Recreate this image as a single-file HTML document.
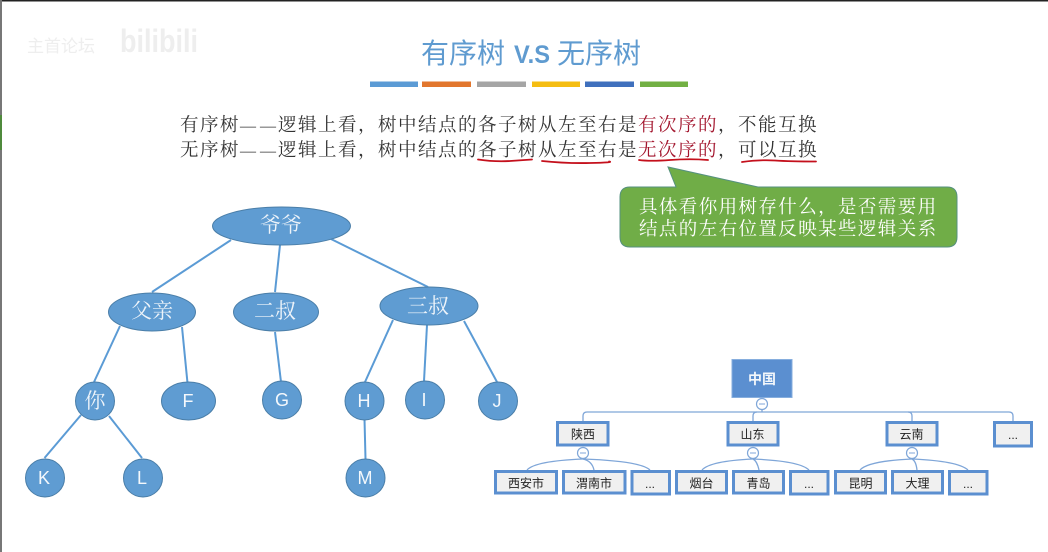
<!DOCTYPE html>
<html><head><meta charset="utf-8">
<style>
html,body{margin:0;padding:0;background:#fff;width:1048px;height:552px;overflow:hidden}
svg{display:block}
.b{font-family:"Liberation Serif","Noto Serif CJK SC",serif;font-size:18.5px;letter-spacing:1.5px;fill:#333}
.w{font-family:"Liberation Serif","Noto Serif CJK SC",serif;font-size:18.5px;letter-spacing:1.4px;fill:#fff}
.d{font-size:16px;letter-spacing:0}
.n{font-family:"Liberation Sans","Noto Sans CJK SC",sans-serif;font-size:18px;fill:#f4f8fc;text-anchor:middle}
.c{font-family:"Liberation Serif","Noto Serif CJK SC",serif;font-size:21px;fill:#eef4fa;text-anchor:middle}
.s{font-family:"Liberation Sans","Noto Sans CJK SC",sans-serif;font-size:12px;fill:#222;text-anchor:middle}
.t{font-family:"Liberation Sans","Noto Sans CJK SC",sans-serif;font-size:28px;fill:#5f9bd0}
</style></head><body>
<svg width="1048" height="552" viewBox="0 0 1048 552" xmlns="http://www.w3.org/2000/svg">
<rect width="1048" height="552" fill="#fff"/>
<rect x="0" y="0" width="1048" height="1.5" fill="#222"/>
<rect x="0" y="0" width="2" height="552" fill="#777"/>
<rect x="0" y="115" width="2" height="35" fill="#4f8a3c"/>

<text x="27" y="52" font-family="'Liberation Sans','Noto Sans CJK SC',sans-serif" font-size="17" fill="#eeeeee">主首论坛</text>
<text x="120" y="52" font-family="'Liberation Sans',sans-serif" font-size="32" font-weight="700" fill="#eeeeee" textLength="78" lengthAdjust="spacingAndGlyphs">bilibili</text>

<text class="t" x="421" y="63">有序树</text>
<text class="t" x="514" y="63" style="font-weight:700;font-size:25px" textLength="36" lengthAdjust="spacingAndGlyphs">V.S</text>
<text class="t" x="557" y="63">无序树</text>

<g>
<rect x="370" y="81.500" width="48" height="5.500" fill="#5b9bd5"/>
<rect x="422" y="81.500" width="49" height="5.500" fill="#e2762d"/>
<rect x="477" y="81.500" width="49" height="5.500" fill="#a5a5a5"/>
<rect x="532" y="81.500" width="48" height="5.500" fill="#f5bd12"/>
<rect x="585" y="81.500" width="49" height="5.500" fill="#3f70bd"/>
<rect x="640" y="81.500" width="48" height="5.500" fill="#72b043"/>
</g>

<text class="b" x="180" y="131">有序树<tspan class="d" x="240">—</tspan><tspan class="d" x="260">—</tspan><tspan x="278">逻辑上看，树中结点的各子树从左至右是</tspan><tspan fill="#a3162e">有次序的</tspan>，不能互换</text>
<text class="b" x="180" y="156">无序树<tspan class="d" x="240">—</tspan><tspan class="d" x="260">—</tspan><tspan x="278">逻辑上看，树中结点的各子树从左至右是</tspan><tspan fill="#a3162e">无次序的</tspan>，可以互换</text>

<g fill="none" stroke="#c4101c" stroke-width="1.800" stroke-linecap="round">
<path d="M478,159.500 Q495,162 510,161 T532,159.500"/>
<path d="M542,161 Q565,163.500 590,163 T609,161.500"/>
<path d="M639,160 Q650,161.500 670,160 T708,160"/>
<path d="M742,162 Q760,159.500 775,160.500 T816,161.500"/>
</g>

<path d="M630,187 H676 L668,167 L758,187 H947 Q957,187 957,197 V237 Q957,247 947,247 H630 Q620,247 620,237 V197 Q620,187 630,187 Z" fill="#70ad47" stroke="#56917f" stroke-width="1"/>
<text class="w" x="639" y="213">具体看你用树存什么，是否需要用</text>
<text class="w" x="639" y="235">结点的左右位置反映某些逻辑关系</text>

<g stroke="#5b9bd5" stroke-width="2" fill="none">
<line x1="231" y1="240" x2="152" y2="292"/>
<line x1="280" y1="245" x2="275" y2="292"/>
<line x1="331" y1="239" x2="428" y2="287"/>
<line x1="120" y1="326" x2="94" y2="382"/>
<line x1="182" y1="327" x2="187.500" y2="383"/>
<line x1="275" y1="332" x2="281" y2="382"/>
<line x1="393" y1="320" x2="365" y2="382"/>
<line x1="427" y1="325" x2="424" y2="381"/>
<line x1="464" y1="321" x2="497" y2="382"/>
<line x1="81" y1="415" x2="44.500" y2="458"/>
<line x1="109" y1="416" x2="142" y2="458"/>
<line x1="364.500" y1="419" x2="365.500" y2="459"/>
</g>
<g fill="#5f9cd2" stroke="#4a7ea8" stroke-width="1">
<ellipse cx="281.500" cy="226" rx="69" ry="19"/>
<ellipse cx="152" cy="312" rx="43.500" ry="19"/>
<ellipse cx="276" cy="312" rx="42.500" ry="19"/>
<ellipse cx="429" cy="306" rx="49" ry="19"/>
<ellipse cx="95" cy="401" rx="19.500" ry="19"/>
<ellipse cx="188.500" cy="401" rx="27" ry="19"/>
<ellipse cx="282" cy="400" rx="19.500" ry="19"/>
<ellipse cx="364.500" cy="401" rx="19.500" ry="19"/>
<ellipse cx="425" cy="400" rx="19.500" ry="19"/>
<ellipse cx="498" cy="401" rx="19.500" ry="19"/>
<ellipse cx="45" cy="478" rx="19.500" ry="19"/>
<ellipse cx="143" cy="478" rx="19.500" ry="19"/>
<ellipse cx="365.500" cy="478" rx="19.500" ry="19"/>
</g>
<text class="c" x="281" y="232">爷爷</text>
<text class="c" x="152" y="318">父亲</text>
<text class="c" x="275" y="318">二叔</text>
<text class="c" x="428" y="313">三叔</text>
<text class="c" x="95" y="408">你</text>
<text class="n" x="188" y="407">F</text>
<text class="n" x="282" y="406">G</text>
<text class="n" x="364" y="407">H</text>
<text class="n" x="424" y="406">I</text>
<text class="n" x="497" y="407">J</text>
<text class="n" x="44" y="484">K</text>
<text class="n" x="142" y="484">L</text>
<text class="n" x="365" y="484">M</text>

<rect x="732" y="359.500" width="60" height="38" fill="#5b8fd0" stroke="#86aede" stroke-width="1"/>
<text x="762" y="384" text-anchor="middle" font-family="'Liberation Sans','Noto Sans CJK SC',sans-serif" font-size="14" font-weight="700" fill="#f3f7fb">中国</text>

<g fill="none" stroke="#7fa6d8" stroke-width="1.300">
<path d="M583,422 V416 Q583,412 587,412 H1009 Q1013,412 1013,416 V422"/>
<path d="M753,422 V416 Q753,412 757,412"/>
<path d="M912,422 V416 Q912,412 908,412"/>
<line x1="762" y1="409" x2="762" y2="412"/>
<path d="M583,459 Q535,461 527,470"/>
<path d="M583,459 Q592,461 594,470"/>
<path d="M583,459 Q640,461 650,470"/>
<path d="M753,459 Q710,461 702,470"/>
<path d="M753,459 Q757,461 759,470"/>
<path d="M753,459 Q800,461 809,470"/>
<path d="M912,459 Q868,461 860,470"/>
<path d="M912,459 Q916,461 917,470"/>
<path d="M912,459 Q958,461 968,470"/>
</g>
<g fill="#fff" stroke="#7fa6d8" stroke-width="1.200">
<circle cx="762" cy="404" r="5.500"/><circle cx="583" cy="453" r="5.500"/><circle cx="753" cy="453" r="5.500"/><circle cx="912" cy="453" r="5.500"/>
</g>
<g stroke="#7fa6d8" stroke-width="1">
<line x1="759" y1="404" x2="765" y2="404"/><line x1="580" y1="453" x2="586" y2="453"/><line x1="750" y1="453" x2="756" y2="453"/><line x1="909" y1="453" x2="915" y2="453"/>
</g>

<g fill="#f0f0f0" stroke="#5b8fd0" stroke-width="3">
<rect x="557.500" y="422.500" width="50.500" height="22.500"/>
<rect x="728" y="422.500" width="50" height="22.500"/>
<rect x="887" y="422.500" width="50" height="22.500"/>
<rect x="994.500" y="422.500" width="37" height="23.500"/>
<rect x="495.500" y="471.500" width="61" height="21.500"/>
<rect x="563.500" y="471.500" width="61.500" height="21.500"/>
<rect x="632" y="471.500" width="37.500" height="22.500"/>
<rect x="676.500" y="471.500" width="50" height="21.500"/>
<rect x="733.500" y="471.500" width="50" height="21.500"/>
<rect x="790.500" y="471.500" width="37.500" height="22.500"/>
<rect x="835.500" y="471.500" width="50" height="21.500"/>
<rect x="892.500" y="471.500" width="50" height="21.500"/>
<rect x="949.500" y="471.500" width="37.500" height="22.500"/>
</g>
<text class="s" x="583" y="438.500">陕西</text>
<text class="s" x="752.500" y="438.500">山东</text>
<text class="s" x="911.500" y="438.500">云南</text>
<text class="s" x="1013" y="439">...</text>
<text class="s" x="526" y="487.500">西安市</text>
<text class="s" x="594" y="487.500">渭南市</text>
<text class="s" x="650" y="488">...</text>
<text class="s" x="701.500" y="487.500">烟台</text>
<text class="s" x="758.500" y="487.500">青岛</text>
<text class="s" x="809" y="488">...</text>
<text class="s" x="860.500" y="487.500">昆明</text>
<text class="s" x="917.500" y="487.500">大理</text>
<text class="s" x="968" y="488">...</text>
</svg>
</body></html>
